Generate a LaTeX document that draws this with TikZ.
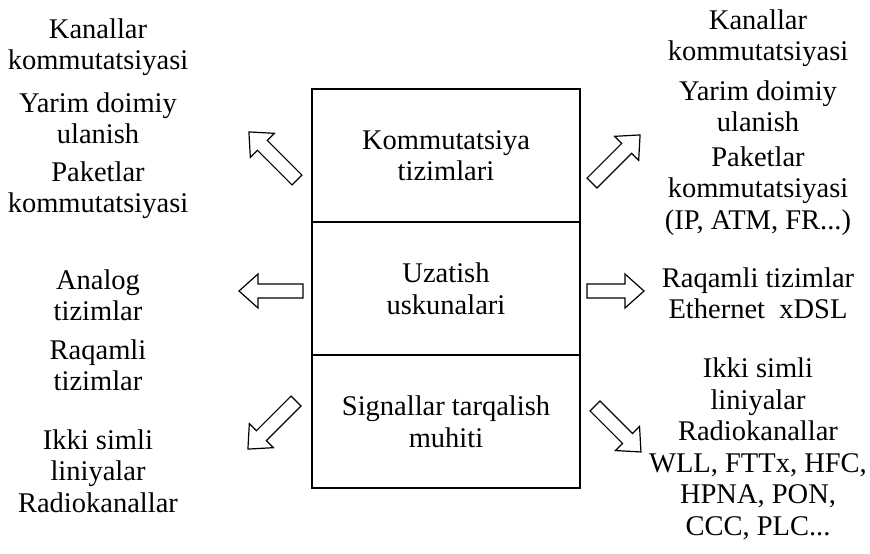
\documentclass[tikz,border=0pt]{standalone}
\usepackage{fontspec}
\setmainfont{Liberation Serif}
\usetikzlibrary{positioning}

\tikzset{
  cell/.style={draw, line width=1.6pt, minimum width=268pt, minimum height=133pt,
    outer sep=0pt, align=center},
  txt/.style={align=center, inner sep=0pt},
  blkarrow/.style={draw, line width=1.2pt, line join=miter},
  pics/blockarr/.style={code={
    \draw[blkarrow] (0,-7) -- (#1-19,-7) -- (#1-19,-17) -- (#1,0)
      -- (#1-19,17) -- (#1-19,7) -- (0,7) -- cycle;
  }}
}

\begin{document}
\begin{tikzpicture}[x=1pt,y=-1pt,font=\fontsize{28.5}{31.5}\selectfont]
\useasboundingbox (0,0) rectangle (870,554);

% middle column
\node [cell] (komm) at (446,155.5) {Kommutatsiya\\tizimlari};
\node [cell, below=0pt of komm] (uzat) {Uzatish\\uskunalari};
\node [cell, below=0pt of uzat] (muhit) {Signallar tarqalish\\muhiti};

% left column
\node [txt] (l1) at (98,47) {Kanallar\\kommutatsiyasi};
\node [txt] (l2) at (98,118) {Yarim doimiy\\ulanish};
\node [txt] (l3) at (98,190) {Paketlar\\kommutatsiyasi};
\node [txt] (l4) at (98,295) {Analog\\tizimlar};
\node [txt] (l5) at (98,365) {Raqamli\\tizimlar};
\node [txt] (l6) at (98,471) {Ikki simli\\liniyalar\\Radiokanallar};

% right column
\node [txt] (r1) at (758,38) {Kanallar\\kommutatsiyasi};
\node [txt] (r2) at (758,106) {Yarim doimiy\\ulanish};
\node [txt] (r3) at (758,191) {Paketlar\\kommutatsiyasi\\(IP, ATM, FR...)};
\node [txt] (r4) at (758,293) {Raqamli tizimlar\\Ethernet~ xDSL};
\node [txt] (r5) at (758,449) {Ikki simli\\liniyalar\\Radiokanallar\\WLL, FTTx, HFC,\\HPNA, PON,\\CCC, PLC...};

% arrows
\pic [rotate=135] at (297,180) {blockarr=68};
\pic [rotate=45] at (592,183) {blockarr=68};
\pic [rotate=180] at (303,291) {blockarr=64};
\pic [rotate=0] at (587,291) {blockarr=57};
\pic [rotate=225] at (296,401) {blockarr=68};
\pic [rotate=315] at (595,406) {blockarr=65};
\end{tikzpicture}
\end{document}
